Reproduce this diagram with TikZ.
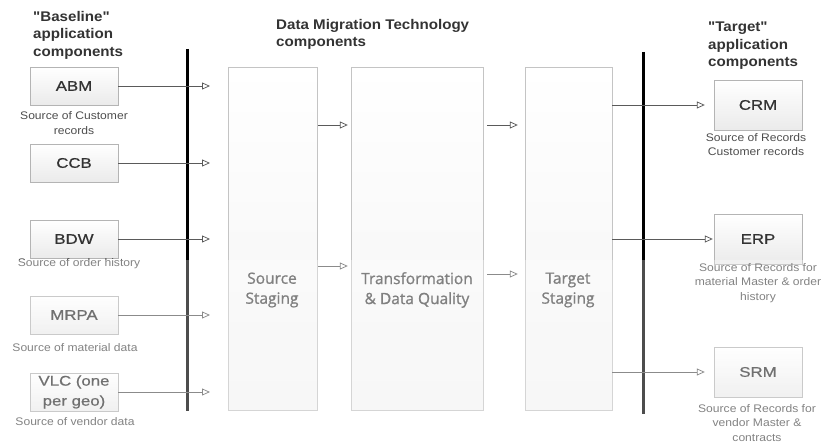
\documentclass[tikz,border=0pt]{standalone}
\usepackage{fontspec}
\setmainfont{Liberation Sans}
\newfontfamily\headfont[FakeStretch=1.08]{Liberation Sans}
\newfontfamily\boxfont[FakeStretch=1.2,FakeBold=0.8]{Liberation Sans}
\newfontfamily\labfont[FakeStretch=1.1]{Liberation Sans}
\newfontfamily\stagefont[FakeBold=1.0]{Open Sans}
\usetikzlibrary{arrows.meta,shadows,calc}
\definecolor{txtdark}{HTML}{333333}
\definecolor{txtlab}{HTML}{4D4D4D}
\definecolor{boxline}{HTML}{B4B4B4}
\definecolor{stageline}{HTML}{C4C4C4}
\definecolor{arrcol}{HTML}{5A5A5A}
\definecolor{stagetext}{HTML}{4A4A4A}
\begin{document}
\begin{tikzpicture}[x=1pt,y=-1pt,
  heading/.style={anchor=north west, align=left, inner sep=0pt, text=txtdark,
    font=\headfont\bfseries\fontsize{14}{17.5}\selectfont},
  appbox/.style={draw=boxline, top color=white, bottom color=gray!16, inner sep=0pt,
    minimum width=88pt, text=txtdark, align=center,
    font=\boxfont\fontsize{14}{20}\selectfont,
    drop shadow={opacity=0.18, shadow xshift=1pt, shadow yshift=-1pt}},
  srcbox/.style={appbox, minimum height=38pt},
  tgtbox/.style={appbox, minimum height=50pt},
  lab/.style={inner sep=0pt, align=center, text=txtlab,
    font=\labfont\fontsize{11}{14.5}\selectfont},
  stagebox/.style={draw=stageline, top color=white, bottom color=gray!9, inner sep=0pt,
    minimum height=343pt,
    drop shadow={opacity=0.12, shadow xshift=1pt, shadow yshift=-1pt}},
  stagetxt/.style={inner sep=0pt, align=center, text=stagetext,
    font=\stagefont\fontsize{15.5}{20}\selectfont},
  arr/.style={draw=arrcol, line width=0.75pt, -{Triangle[open,length=8pt,width=7pt]}},
  bar/.style={draw=black, line width=3pt}
]
\useasboundingbox (0,0) rectangle (823,443);

% headings
\node[heading] (hbase) at (33,11) {"Baseline"\\application\\components};
\node[heading] (hdmt) at (276,19) {Data Migration Technology\\components};
\node[heading] (htgt) at (708,22) {"Target"\\application\\components};

% baseline application boxes
\node[srcbox] (abm) at (74,86) {ABM};
\node[srcbox] (ccb) at (74,163) {CCB};
\node[srcbox] (bdw) at (74,239) {BDW};
\node[srcbox] (mrpa) at (74,315) {MRPA};
\node[srcbox] (vlc) at (74,392) {VLC (one\\per geo)};

\node[lab] (labm) at (74,123) {Source of Customer\\records};
\node[lab] (lbdw) at (79,264) {Source of order history};
\node[lab] (lmrpa) at (75,348) {Source of material data};
\node[lab] (lvlc) at (75,422) {Source of vendor data};

% staging boxes
\node[stagebox, minimum width=89pt] (ss) at (272.5,238.5) {};
\node[stagebox, minimum width=132pt] (tr) at (417,238.5) {};
\node[stagebox, minimum width=87pt] (tg) at (568.5,238.5) {};
\node[stagetxt] (tss) at (272,290) {Source\\Staging};
\node[stagetxt] (ttr) at (417,290) {Transformation\\\& Data Quality};
\node[stagetxt] (ttg) at (568,290) {Target\\Staging};

% target application boxes
\node[tgtbox] (crm) at (758,105) {CRM};
\node[tgtbox] (erp) at (758,239) {ERP};
\node[tgtbox] (srm) at (758,372) {SRM};

\node[lab] (lcrm) at (756,144.5) {Source of Records\\Customer records};
\node[lab] (lerp) at (758,283) {Source of Records for\\material Master \& order\\history};
\node[lab] (lsrm) at (757,423) {Source of Records for\\vendor Master \&\\contracts};

% bars
\coordinate (bl1) at (187,49);
\coordinate (bl2) at (187,411);
\coordinate (br1) at (643,52);
\coordinate (br2) at (643,414);
\draw[bar] (bl1) -- (bl2);
\draw[bar] (br1) -- (br2);

% left arrows
\coordinate (tipL) at (210,0);
\foreach \b in {abm,ccb,bdw,mrpa,vlc}
  \draw[arr] (\b.east) -- (\b.east -| tipL);

% middle arrows
\coordinate (m1) at (0,125);
\coordinate (m2) at (0,266);
\coordinate (m3) at (0,274);
\draw[arr] ([xshift=1pt]ss.east |- m1) -- ([xshift=-3pt]tr.west |- m1);
\draw[arr] ([xshift=1pt]ss.east |- m2) -- ([xshift=-3pt]tr.west |- m2);
\draw[arr] ([xshift=4pt]tr.east |- m1) -- ([xshift=-7pt]tg.west |- m1);
\draw[arr] ([xshift=4pt]tr.east |- m3) -- ([xshift=-7pt]tg.west |- m3);

% right arrows
\draw[arr] (tg.east |- crm) -- ([xshift=-9pt]crm.west);
\draw[arr] (tg.east |- erp) -- ([xshift=-1pt]erp.west);
\draw[arr] (tg.east |- srm) -- ([xshift=-9pt]srm.west);

% faded lower part
\fill[white, opacity=0.3] (0,260) rectangle (823,443);
\end{tikzpicture}
\end{document}
